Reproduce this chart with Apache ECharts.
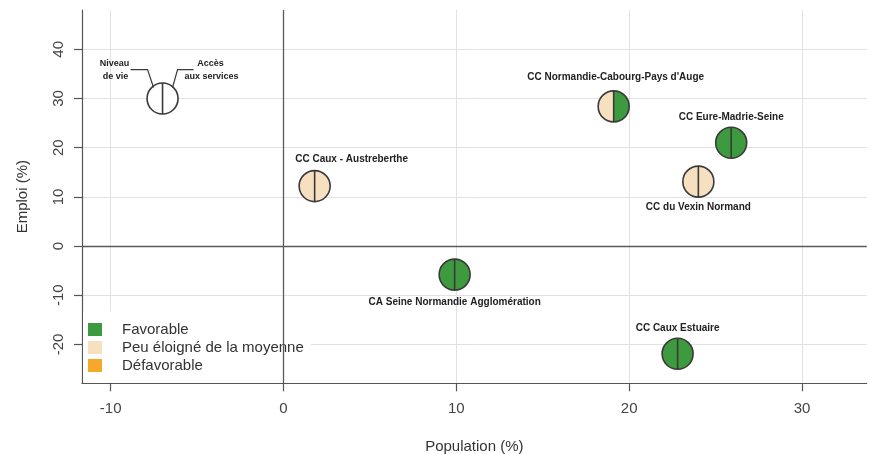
<!DOCTYPE html>
<html>
<head>
<meta charset="utf-8">
<script src="https://cdn.jsdelivr.net/npm/echarts@6/dist/echarts.min.js"></script>
<style>
html,body{margin:0;padding:0;background:#fff;}
#chart{width:870px;height:454px;}
</style>
</head>
<body>
<div id="chart"></div>
<script>
// ---- data ----
const communes = ['CC Caux - Austreberthe', "CC Normandie-Cabourg-Pays d'Auge", 'CC Eure-Madrie-Seine', 'CC du Vexin Normand', 'CA Seine Normandie Agglomération', 'CC Caux Estuaire'];
const population = [1.8, 19.1, 25.9, 24.0, 9.9, 22.8];
const emploi = [12.2, 28.4, 21.0, 13.1, -5.8, -21.9];
const niveauVie = ['Peu éloigné de la moyenne', 'Peu éloigné de la moyenne', 'Favorable', 'Peu éloigné de la moyenne', 'Favorable', 'Favorable'];
const accesServices = ['Peu éloigné de la moyenne', 'Favorable', 'Favorable', 'Peu éloigné de la moyenne', 'Favorable', 'Favorable'];
const categories = ['Favorable', 'Peu éloigné de la moyenne', 'Défavorable'];
const keyPoint = [-7, 30];
const xTicks = [-10, 0, 10, 20, 30];
const yTicks = [-20, -10, 0, 10, 20, 30, 40];

// ---- styles ----
const catColors = {'Favorable': '#3e9a3e', 'Peu éloigné de la moyenne': '#f6e0c0', 'Défavorable': '#f5a82a'};
const labelOffsets = [[37, -27], [2, -29], [0, -26], [0, 26], [0, 28], [0, -26]];
const R = 15.5;
const FONT = '"Liberation Sans", Arial, Helvetica, sans-serif';
const edge = '#3a3a3a';

function circleParts(cx, cy, leftFill, rightFill) {
  return [
    {type: 'sector', shape: {cx: cx, cy: cy, r0: 0, r: R, startAngle: Math.PI / 2, endAngle: Math.PI * 3 / 2}, style: {fill: leftFill}},
    {type: 'sector', shape: {cx: cx, cy: cy, r0: 0, r: R, startAngle: -Math.PI / 2, endAngle: Math.PI / 2}, style: {fill: rightFill}},
    {type: 'circle', shape: {cx: cx, cy: cy, r: R}, style: {fill: null, stroke: edge, lineWidth: 1.6}},
    {type: 'line', shape: {x1: cx, y1: cy - R, x2: cx, y2: cy + R}, style: {stroke: edge, lineWidth: 1.6}}
  ];
}

const chart = echarts.init(document.getElementById('chart'), null, {renderer: 'canvas'});

const option = {
  animation: false,
  backgroundColor: '#fff',
  grid: {left: 82, right: 3.3, top: 10, bottom: 70.7, containLabel: false, outerBoundsMode: 'none'},
  xAxis: {
    type: 'value', min: -11.66, max: 33.74,
    name: 'Population (%)', nameLocation: 'middle', nameGap: 56,
    nameTextStyle: {fontFamily: FONT, fontSize: 15, color: '#333'},
    axisLine: {show: true, onZero: false, lineStyle: {color: '#555', width: 1.2}},
    axisTick: {show: true, length: 8, customValues: xTicks, lineStyle: {color: '#555', width: 1.2}},
    axisLabel: {customValues: xTicks, margin: 18, fontFamily: FONT, fontSize: 15, color: '#444'},
    splitLine: {show: true, lineStyle: {color: '#e2e2e2', width: 1}}
  },
  yAxis: {
    type: 'value', min: -27.9, max: 48,
    name: 'Emploi (%)', nameLocation: 'middle', nameGap: 52,
    nameTextStyle: {fontFamily: FONT, fontSize: 15, color: '#333'},
    axisLine: {show: true, onZero: false, lineStyle: {color: '#555', width: 1.2}},
    axisTick: {show: true, length: 8, customValues: yTicks, lineStyle: {color: '#555', width: 1.2}},
    axisLabel: {customValues: yTicks, rotate: 90, margin: 16, fontFamily: FONT, fontSize: 15, color: '#444'},
    splitLine: {show: true, lineStyle: {color: '#e2e2e2', width: 1}}
  },
  legend: {
    data: categories,
    orient: 'vertical', left: 83, bottom: 72,
    icon: 'rect', itemWidth: 14, itemHeight: 13, itemGap: 3,
    padding: [11, 7, 9, 5],
    backgroundColor: '#fff', borderWidth: 0,
    textStyle: {fontFamily: FONT, fontSize: 15, color: '#333', padding: [0, 0, 0, 15]},
    selectedMode: false
  },
  series: [
    {
      type: 'line', name: 'zero', data: [], silent: true,
      markLine: {
        silent: true, symbol: 'none', label: {show: false},
        lineStyle: {color: '#5a5a5a', width: 1.3, type: 'solid'},
        data: [{xAxis: 0}, {yAxis: 0}]
      }
    },
    ...categories.map(c => ({type: 'scatter', name: c, data: [], itemStyle: {color: catColors[c], opacity: 1}})),
    {
      type: 'custom', name: 'communes', z: 3,
      data: population.map((x, i) => [x, emploi[i]]),
      renderItem: function (params, api) {
        const i = params.dataIndex;
        const p = api.coord([api.value(0), api.value(1)]);
        const children = circleParts(p[0], p[1], catColors[niveauVie[i]], catColors[accesServices[i]]);
        children.push({type: 'text', style: {text: communes[i], x: p[0] + labelOffsets[i][0], y: p[1] + labelOffsets[i][1], align: 'center', verticalAlign: 'middle', font: 'bold 10px ' + FONT, fill: '#222'}});
        return {type: 'group', children: children};
      }
    },
    {
      type: 'custom', name: 'key', z: 3,
      data: [keyPoint],
      renderItem: function (params, api) {
        const p = api.coord([api.value(0), api.value(1)]);
        const cx = p[0], cy = p[1];
        const children = circleParts(cx, cy, '#fff', '#fff');
        children.push({type: 'polyline', shape: {points: [[cx - 32, cy - 29], [cx - 15, cy - 29], [cx - 9, cy - 11]]}, style: {stroke: edge, lineWidth: 1.2, fill: null}});
        children.push({type: 'polyline', shape: {points: [[cx + 31, cy - 29], [cx + 15, cy - 29], [cx + 10, cy - 11]]}, style: {stroke: edge, lineWidth: 1.2, fill: null}});
        const f = 'bold 9px ' + FONT;
        children.push({type: 'text', style: {text: 'Niveau', x: cx - 48, y: cy - 35, align: 'center', verticalAlign: 'middle', font: f, fill: '#222'}});
        children.push({type: 'text', style: {text: 'de vie', x: cx - 47, y: cy - 22, align: 'center', verticalAlign: 'middle', font: f, fill: '#222'}});
        children.push({type: 'text', style: {text: 'Accès', x: cx + 48, y: cy - 35, align: 'center', verticalAlign: 'middle', font: f, fill: '#222'}});
        children.push({type: 'text', style: {text: 'aux services', x: cx + 49, y: cy - 22, align: 'center', verticalAlign: 'middle', font: f, fill: '#222'}});
        return {type: 'group', children: children};
      }
    }
  ]
};
chart.setOption(option);
</script>
</body>
</html>
